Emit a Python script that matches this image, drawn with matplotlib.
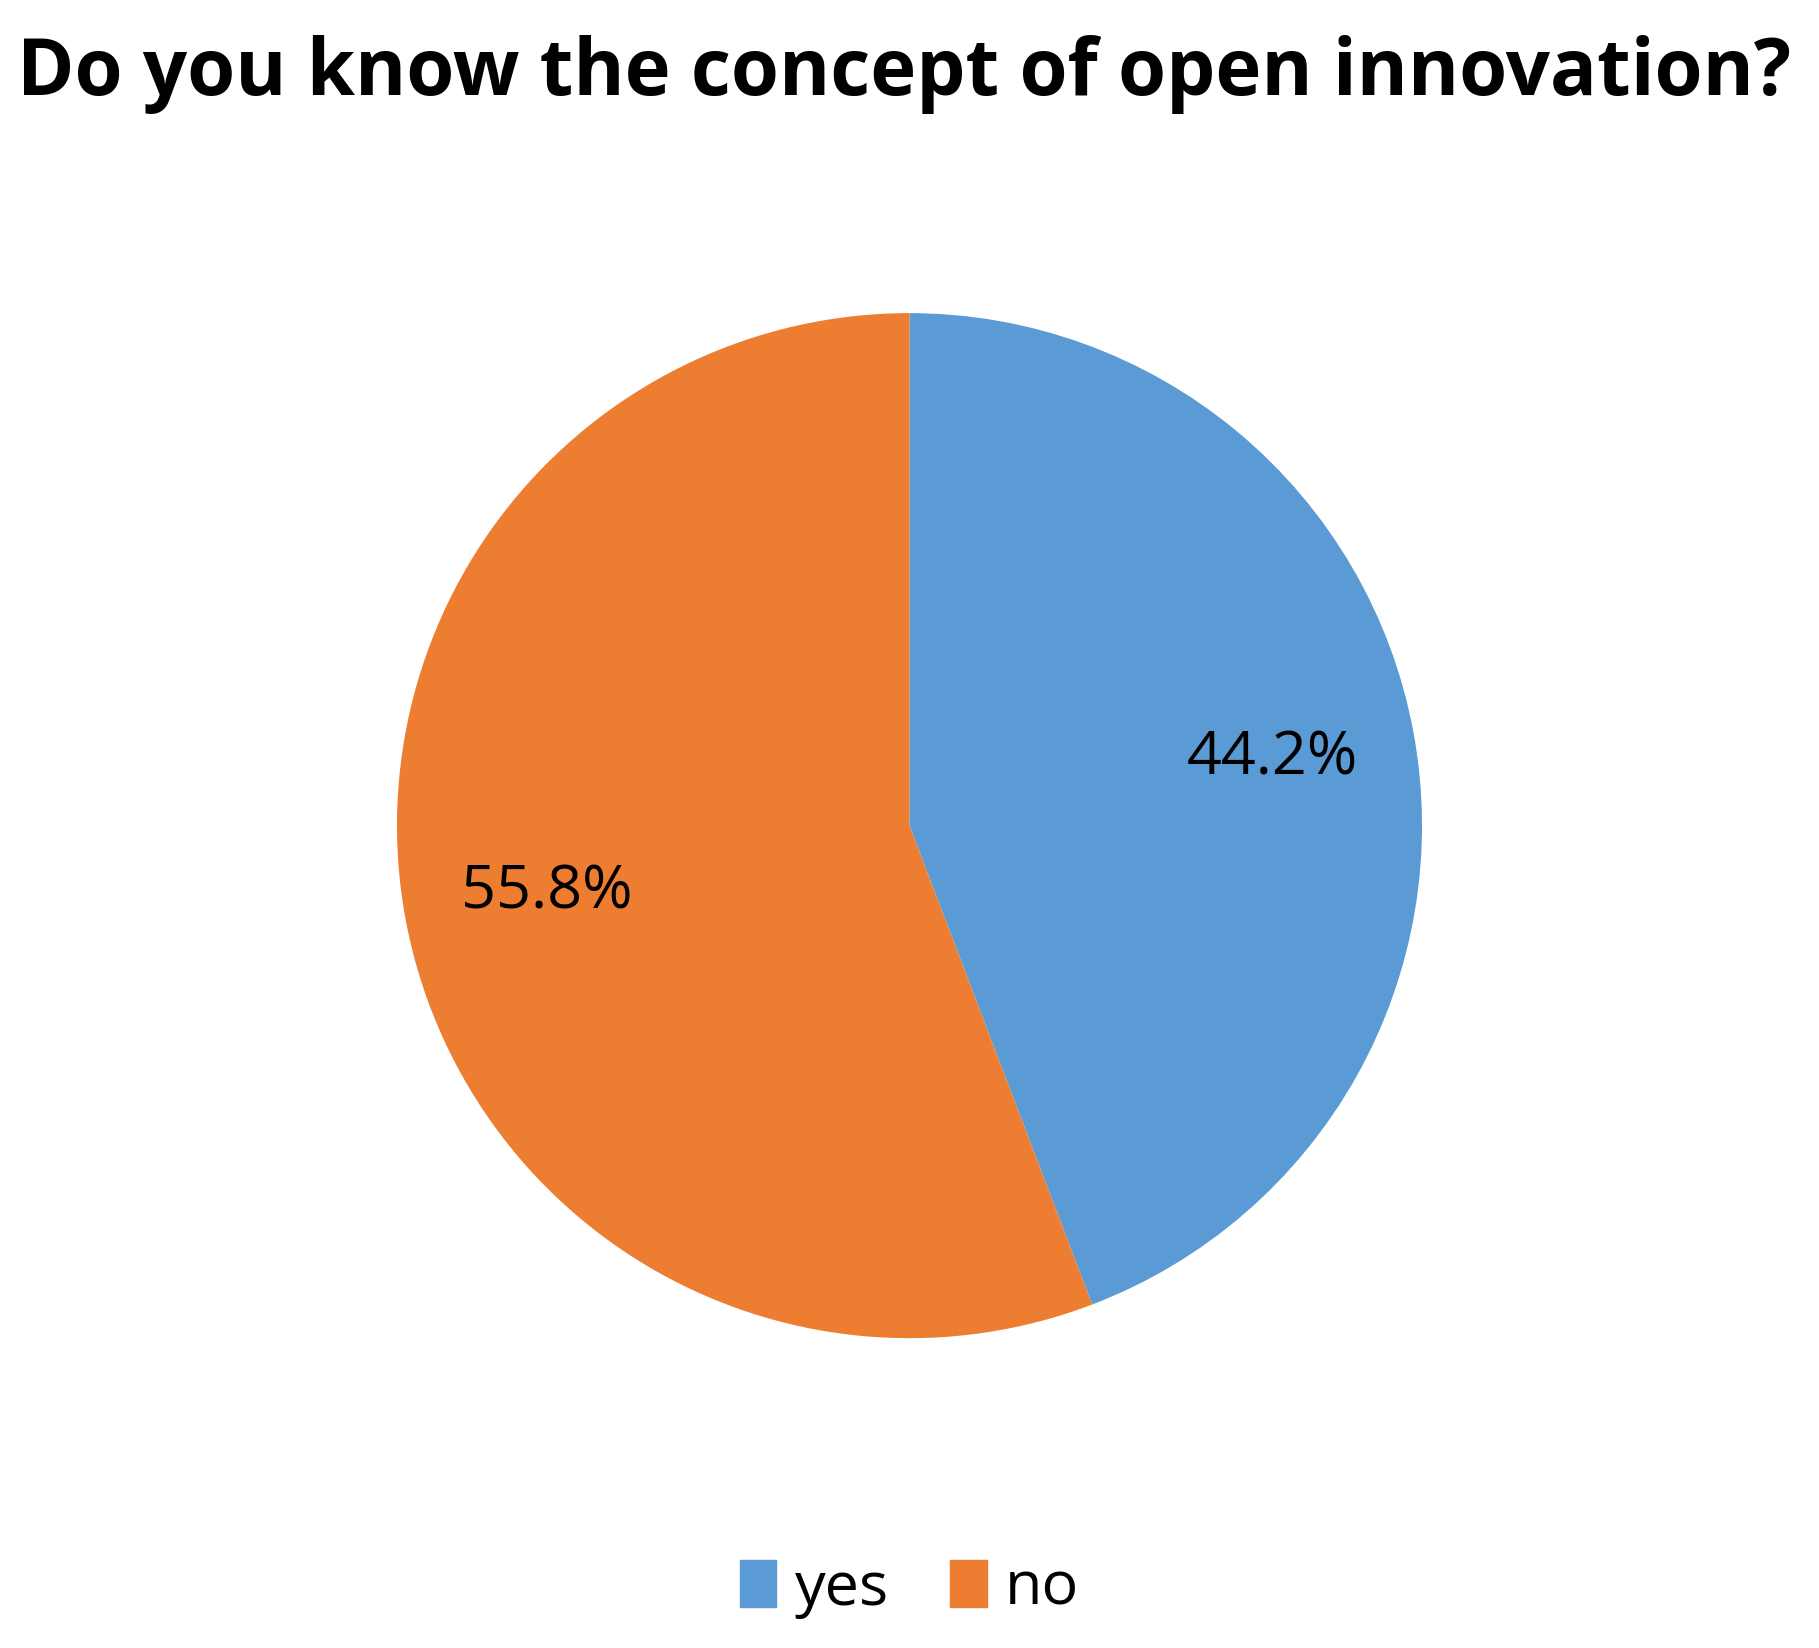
import matplotlib.pyplot as plt
from matplotlib.patches import Patch

categories = ["yes", "no"]
values = [44.2, 55.8]
colors = ["#5B9BD5", "#ED7D31"]

plt.rcParams['font.family'] = ['Open Sans', 'DejaVu Sans']
fig = plt.figure(figsize=(18.19, 16.48), dpi=100)
ax = fig.add_axes([0.218, 0.188, 0.564, 0.622])
wedges, texts, autotexts = ax.pie(values, colors=colors, startangle=90, counterclock=False,
                                  autopct='%1.1f%%', pctdistance=0.72,
                                  textprops=dict(fontsize=44, color='black'))
ax.set_xlim(-1, 1)
ax.set_ylim(-1, 1)
ax.set_aspect('equal')
fig.text(0.497, 0.955, "Do you know the concept of open innovation?", ha='center', va='center',
         fontsize=56, fontweight='bold')
handles = [Patch(color=c, label=l) for c, l in zip(colors, categories)]
fig.legend(handles=handles, loc='center', bbox_to_anchor=(0.5, 0.036), ncol=2, frameon=False,
           fontsize=44, handlelength=0.6, handleheight=0.8, columnspacing=1.0, handletextpad=0.3)
fig.savefig("out.png", dpi=100)
